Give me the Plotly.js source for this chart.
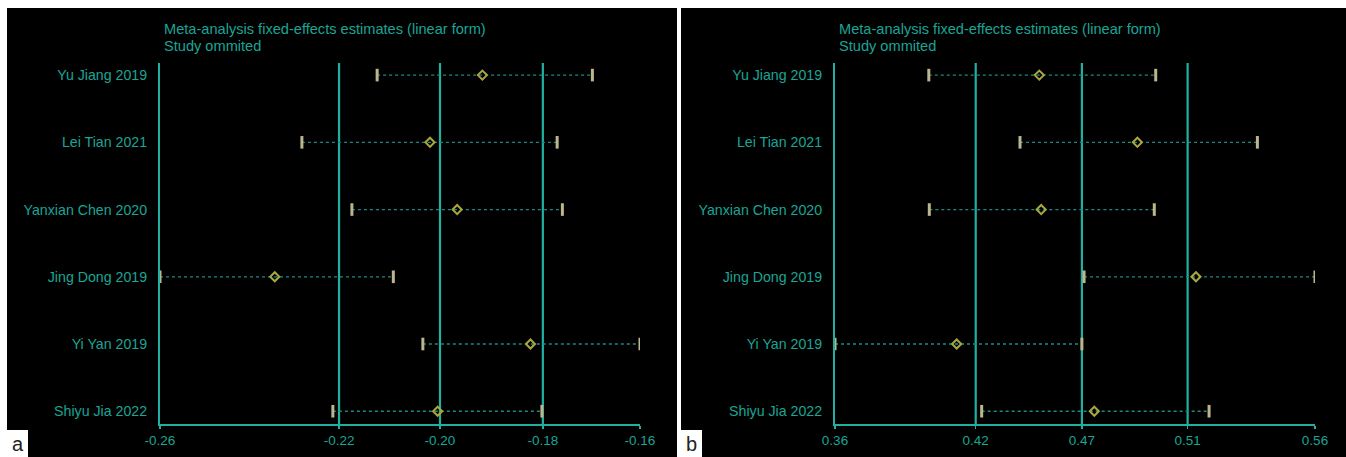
<!DOCTYPE html>
<html>
<head>
<meta charset="utf-8">
<script src="https://cdn.plot.ly/plotly-3.0.1.min.js"></script>
<style>html,body{margin:0;padding:0;background:#fff;}#chart{width:1346px;height:457px;}</style>
</head>
<body>
<div id="chart"></div>
<script>
// ---- data ----
const studies = ["Yu Jiang 2019","Lei Tian 2021","Yanxian Chen 2020","Jing Dong 2019","Yi Yan 2019","Shiyu Jia 2022"];
// panel a
const estA   = [-0.1911,-0.2021,-0.1964,-0.2347,-0.1810,-0.2005];
const lowA   = [-0.2132,-0.2290,-0.2185,-0.2588,-0.2036,-0.2225];
const highA  = [-0.1680,-0.1754,-0.1743,-0.2098,-0.1580,-0.1786];
const overallA = [-0.2212,-0.2000,-0.1784]; // lower, estimate, upper
// panel b
const estB   = [0.4481,0.4893,0.4489,0.5139,0.4134,0.4712];
const lowB   = [0.4017,0.4400,0.4019,0.4669,0.3623,0.4239];
const highB  = [0.4970,0.5397,0.4964,0.5639,0.4660,0.5194];
const overallB = [0.4214,0.4660,0.5104];
const titleLines = ["Meta-analysis fixed-effects estimates (linear form)","Study ommited"];
const panelLabels = ["a","b"];

// ---- layout helpers ----
const W = 1346, H = 457;
const px = v => v / W;
const py = v => 1 - v / H;
const TEAL = "#1fb0a2";
const TEXT = "#1aa596";
const FONT = "Liberation Sans, Arial";

function panelTraces(est, low, high, xa, ya) {
  const lx = [], ly = [];
  studies.forEach((s, i) => { lx.push(low[i], high[i], null); ly.push(s, s, null); });
  return [
    {type:"scatter", mode:"lines", x:lx, y:ly, xaxis:xa, yaxis:ya,
     line:{color:"#1c8a82", width:1.3, dash:"3px,3px"}, hoverinfo:"skip", showlegend:false},
    {type:"scatter", mode:"markers", x:low.concat(high), y:studies.concat(studies), xaxis:xa, yaxis:ya,
     marker:{symbol:"line-ns", size:9, line:{color:"#bdb68c", width:3}}, showlegend:false},
    {type:"scatter", mode:"markers", x:est, y:studies, xaxis:xa, yaxis:ya,
     marker:{symbol:"diamond-open", size:7, color:"#aaa640", line:{color:"#aaa640", width:2}}, showlegend:false}
  ];
}

const data = panelTraces(estA, lowA, highA, "x", "y").concat(panelTraces(estB, lowB, highB, "x2", "y2"));

function xaxisCfg(domain, low, high, overall, anchor) {
  const lo = Math.min(...low), hi = Math.max(...high);
  const tv = [lo, overall[0], overall[1], overall[2], hi];
  return {
    domain: domain, anchor: anchor, range: [lo, hi], tickvals: tv,
    ticktext: tv.map(v => v.toFixed(2)), showgrid: false, zeroline: false,
    showline: true, linecolor: TEAL, linewidth: 2, ticks: "outside", ticklen: 3,
    tickcolor: TEAL, tickwidth: 1.5, tickfont: {family: FONT, size: 13.5, color: TEXT}
  };
}
function yaxisCfg(anchor) {
  return {
    domain: [py(424), py(63)], anchor: anchor, type: "category", categoryarray: studies,
    range: [5.19, -0.18], showgrid: false, zeroline: false, showline: true, linecolor: TEAL, linewidth: 2,
    ticks: "", ticklabelstandoff: 8,
    tickfont: {family: FONT, size: 14.2, color: TEXT}
  };
}

const shapes = [
  {type:"rect", xref:"paper", yref:"paper", x0:px(7), x1:px(677), y0:0, y1:py(8), fillcolor:"#000", line:{width:0}, layer:"below"},
  {type:"rect", xref:"paper", yref:"paper", x0:px(681), x1:1, y0:0, y1:py(8), fillcolor:"#000", line:{width:0}, layer:"below"},
  {type:"rect", xref:"paper", yref:"paper", x0:px(7), x1:px(28), y0:0, y1:py(430), fillcolor:"#fff", line:{width:0}},
  {type:"rect", xref:"paper", yref:"paper", x0:px(681), x1:px(702), y0:0, y1:py(430), fillcolor:"#fff", line:{width:0}}
];
overallA.forEach(v => shapes.push({type:"line", xref:"x", yref:"y domain", x0:v, x1:v, y0:0, y1:1, line:{color:TEAL, width:2.2}, layer:"below"}));
overallB.forEach(v => shapes.push({type:"line", xref:"x2", yref:"y2 domain", x0:v, x1:v, y0:0, y1:1, line:{color:TEAL, width:2.2}, layer:"below"}));

const annotations = [];
[162, 837].forEach(x0 => {
  titleLines.forEach((t, i) => annotations.push({
    xref:"paper", yref:"paper", x:px(x0), y:py(29 + 17*i), xanchor:"left", yanchor:"middle",
    text:t, showarrow:false, font:{family:FONT, size:14.6, color:TEXT}
  }));
});
[[17.5, 0], [691.5, 1]].forEach(([x, i]) => annotations.push({
  xref:"paper", yref:"paper", x:px(x), y:py(444), xanchor:"center", yanchor:"middle",
  text:panelLabels[i], showarrow:false, font:{family:FONT, size:20, color:"#222"}
}));

const layout = {
  width: W, height: H, margin: {l:0, r:0, t:0, b:0},
  paper_bgcolor: "#fff", plot_bgcolor: "rgba(0,0,0,0)", showlegend: false,
  xaxis: xaxisCfg([px(160), px(640)], lowA, highA, overallA, "y"),
  yaxis: yaxisCfg("x"),
  xaxis2: xaxisCfg([px(835), px(1315)], lowB, highB, overallB, "y2"),
  yaxis2: yaxisCfg("x2"),
  shapes: shapes, annotations: annotations
};

Plotly.newPlot("chart", data, layout, {displayModeBar: false, staticPlot: true});
</script>
</body>
</html>
